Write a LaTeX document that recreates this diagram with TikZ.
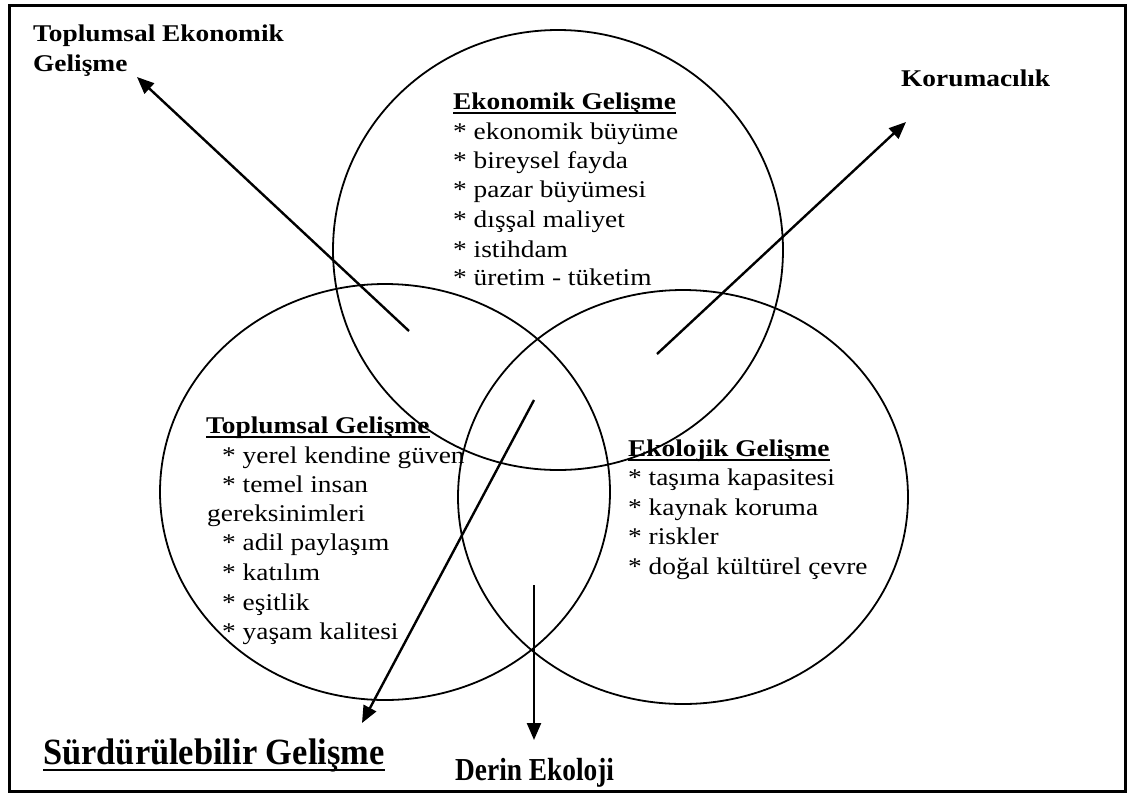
\documentclass[tikz,border=0pt]{standalone}
\usepackage{graphicx}
\usepackage{fontspec}
\setmainfont{Liberation Serif}
\newfontfamily\bodyfont{Liberation Serif}[FakeStretch=1.14]
\usetikzlibrary{arrows.meta}
\begin{document}
\begin{tikzpicture}[x=1pt,y=-1pt,
  txt/.style={anchor=base west, inner sep=0pt, font=\bodyfont\fontsize{24}{29}\selectfont},
  ttl/.style={anchor=base west, inner sep=0pt, font=\bodyfont\bfseries\fontsize{24}{29}\selectfont},
  ring/.style={draw, line width=1.8pt},
  arr/.style={line width=2.4pt, -{Triangle[length=17pt,width=14pt]}},
  uline/.style={line width=2pt}]
\useasboundingbox (0,0) rectangle (1130,796);
\draw[line width=3pt] (9.5,5.5) rectangle (1125.5,791.5);
% circles
\draw[ring] (558,250) ellipse [x radius=225pt, y radius=220pt];
\draw[ring] (385,492) ellipse [x radius=225pt, y radius=208pt];
\draw[ring] (683,497) ellipse [x radius=225pt, y radius=207pt];
% outer labels
\node[ttl] (tek1) at (33,41) {Toplumsal Ekonomik};
\node[ttl] (tek2) at (33,71) {Gelişme};
\node[ttl] (kor) at (901,86) {Korumacılık};
\node[anchor=base west, inner sep=0pt, font=\rmfamily\bfseries\fontsize{37}{40}\selectfont] (sg) at (43,764) {\scalebox{0.93}[1]{Sürdürülebilir Gelişme}};
\draw[line width=2.5pt] ([yshift=-6pt]sg.base west) -- ([yshift=-6pt]sg.base east);
\node[anchor=base west, inner sep=0pt, font=\rmfamily\bfseries\fontsize{32}{36}\selectfont] (de) at (455,780) {\scalebox{0.855}[1]{Derin Ekoloji}};
% Ekonomik
\node[ttl] (ekt) at (453,109) {Ekonomik Gelişme};
\draw[uline] ([yshift=-4pt]ekt.base west) -- ([yshift=-4pt]ekt.base east);
\node[txt] (ek1) at (453,139) {* ekonomik büyüme};
\node[txt] (ek2) at (453,168) {* bireysel fayda};
\node[txt] (ek3) at (453,197) {* pazar büyümesi};
\node[txt] (ek4) at (453,227) {* dışşal maliyet};
\node[txt] (ek5) at (453,257) {* istihdam};
\node[txt] (ek6) at (453,285) {* üretim - tüketim};
% Toplumsal
\node[ttl] (tpt) at (206,433) {Toplumsal Gelişme};
\draw[uline] ([yshift=-4pt]tpt.base west) -- ([yshift=-4pt]tpt.base east);
\node[txt] (tp1) at (222,463) {* yerel kendine güven};
\node[txt] (tp2) at (222,492) {* temel insan};
\node[txt] (tp3) at (207,521) {gereksinimleri};
\node[txt] (tp4) at (222,550) {* adil paylaşım};
\node[txt] (tp5) at (222,580) {* katılım};
\node[txt] (tp6) at (222,610) {* eşitlik};
\node[txt] (tp7) at (222,639) {* yaşam kalitesi};
% Ekolojik
\node[ttl] (elt) at (628,456) {Ekolojik Gelişme};
\draw[uline] ([yshift=-4pt]elt.base west) -- ([yshift=-4pt]elt.base east);
\node[txt] (el1) at (628,485) {* taşıma kapasitesi};
\node[txt] (el2) at (628,515) {* kaynak koruma};
\node[txt] (el3) at (628,544) {* riskler};
\node[txt] (el4) at (628,574) {* doğal kültürel çevre};
% arrows
\coordinate (a1s) at (409,331);
\coordinate (a1e) at (137,77);
\coordinate (a2s) at (657,354);
\coordinate (a2e) at (906,122);
\coordinate (a3s) at (534,400);
\coordinate (a3e) at (362,723);
\coordinate (a4s) at (534,585);
\coordinate (a4e) at (534,740);
\draw[arr] (a1s) -- (a1e);
\draw[arr] (a2s) -- (a2e);
\draw[arr] (a3s) -- (a3e);
\draw[arr] (a4s) -- (a4e);
\end{tikzpicture}
\end{document}
